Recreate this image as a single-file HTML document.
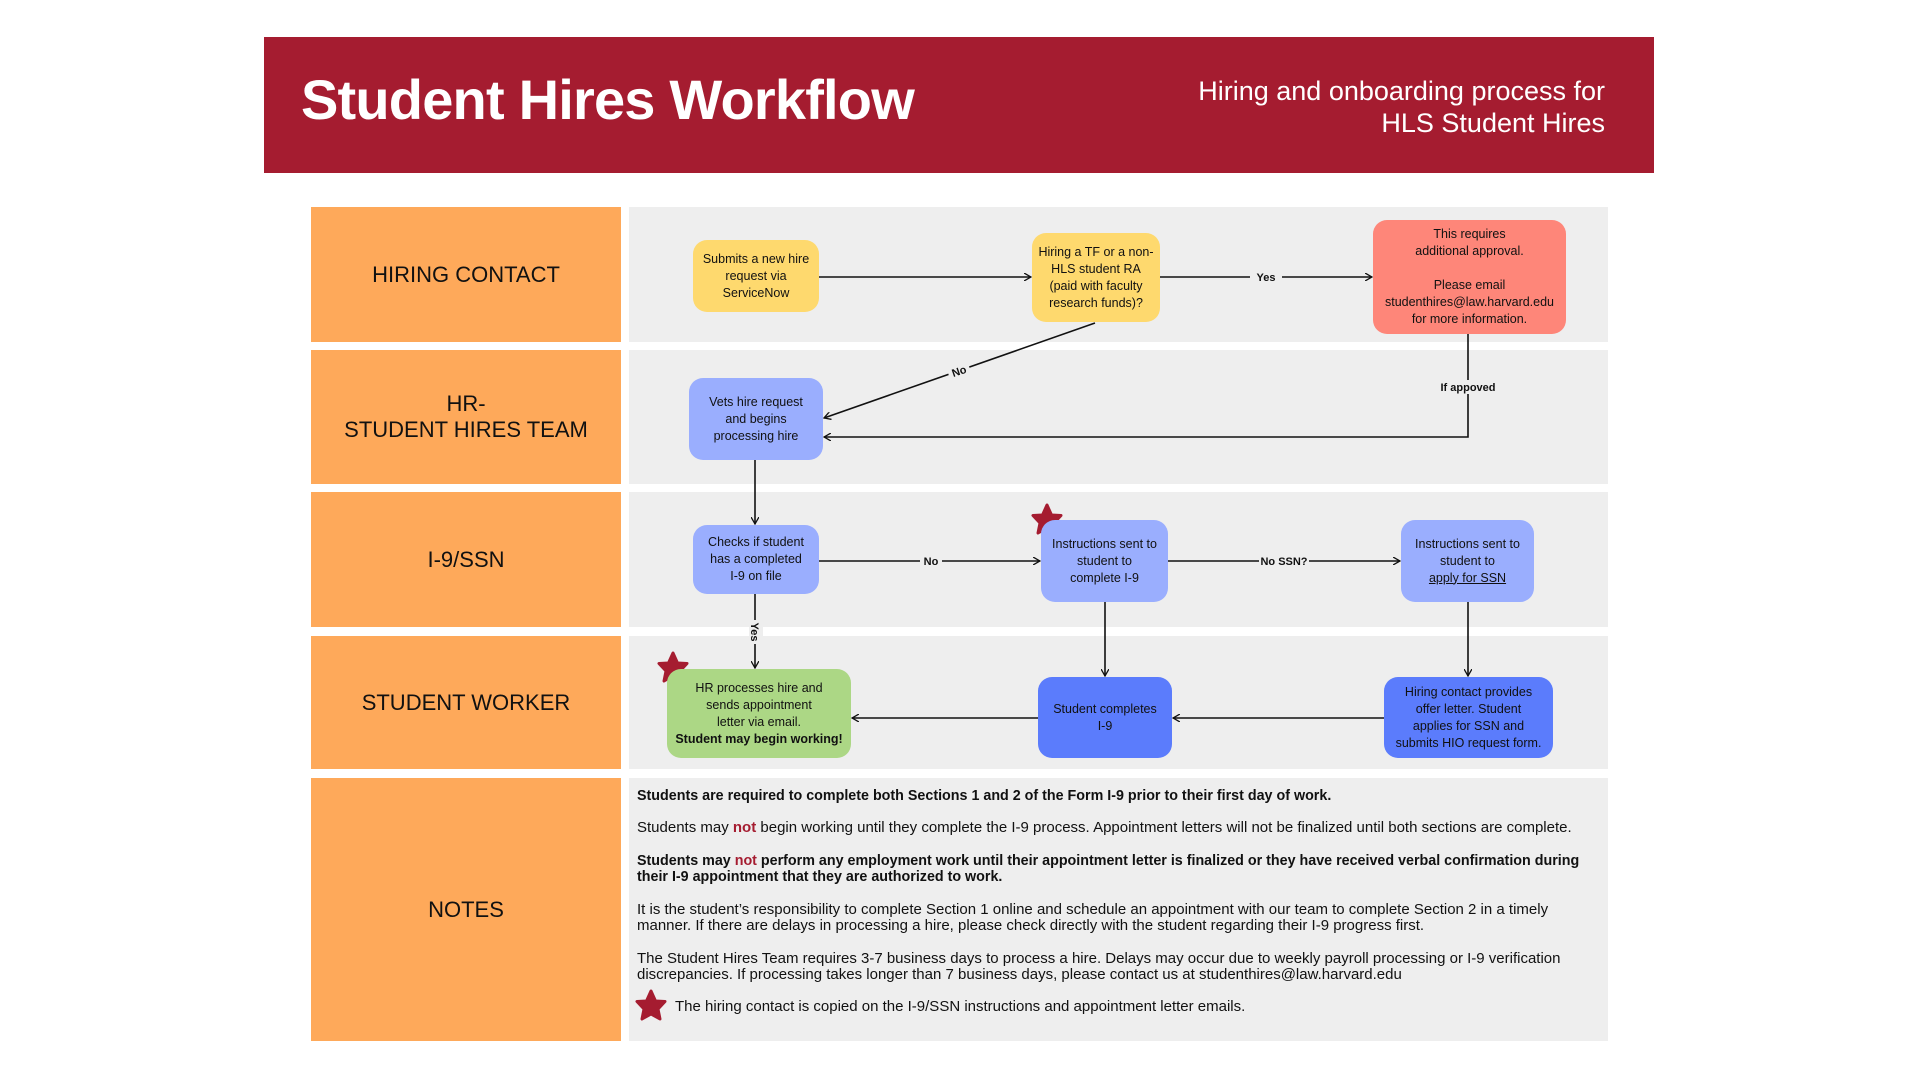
<!DOCTYPE html>
<html><head><meta charset="utf-8"><style>
*{margin:0;padding:0;box-sizing:border-box}
body{width:1920px;height:1080px;background:#fff;position:relative;font-family:"Liberation Sans",sans-serif;overflow:hidden}
.abs{position:absolute}
.hdr{left:264px;top:37px;width:1390px;height:136px;background:#a51c30}
.title{left:301px;top:67px;color:#fff;font-weight:bold;font-size:56px;letter-spacing:-0.8px}
.sub{right:315px;top:75px;color:#fff;font-size:27px;text-align:right;line-height:32px}
.lane{left:311px;width:310px;background:#fea95a;display:flex;align-items:center;justify-content:center;text-align:center;font-size:22px;color:#111;line-height:26px}
.bg{left:629px;width:979px;background:#eeeeee}
.n{display:flex;align-items:center;justify-content:center;text-align:center;font-size:12.5px;line-height:17px;color:#111;border-radius:14px;padding:4px}
.n>div{width:100%}
.y{background:#fed96e}.r{background:#fe8679}.b{background:#9aaefe}.g{background:#acd785}.d{background:#5b7cfc}
.notes{left:637px;font-size:15px;color:#111;line-height:16px;width:970px;white-space:nowrap}
.bd{font-size:14.3px}
</style></head><body>
<div class="abs hdr"></div>
<div class="abs title">Student Hires Workflow</div>
<div class="abs sub">Hiring and onboarding process for<br>HLS Student Hires</div>

<div class="abs lane" style="top:207px;height:135px">HIRING CONTACT</div>
<div class="abs lane" style="top:350px;height:134px">HR-<br>STUDENT HIRES TEAM</div>
<div class="abs lane" style="top:492px;height:135px">I-9/SSN</div>
<div class="abs lane" style="top:636px;height:133px">STUDENT WORKER</div>
<div class="abs lane" style="top:778px;height:263px">NOTES</div>
<div class="abs bg" style="top:207px;height:135px"></div>
<div class="abs bg" style="top:350px;height:134px"></div>
<div class="abs bg" style="top:492px;height:135px"></div>
<div class="abs bg" style="top:636px;height:133px"></div>
<div class="abs bg" style="top:778px;height:263px"></div>

<svg class="abs" style="left:0;top:0" width="1920" height="1080">
<defs><marker id="a" markerWidth="8" markerHeight="8" refX="7" refY="4" orient="auto" markerUnits="userSpaceOnUse"><path d="M0,0 L7,4 L0,8" fill="none" stroke="#111" stroke-width="1.3"/></marker></defs>
<g stroke="#111" stroke-width="1.6" fill="none">
<line x1="819" y1="277" x2="1031" y2="277" marker-end="url(#a)"/>
<line x1="1160" y1="277" x2="1372" y2="277" marker-end="url(#a)"/>
<line x1="1095" y1="323" x2="824" y2="418" marker-end="url(#a)"/>
<polyline points="1468,334 1468,437 824,437" marker-end="url(#a)"/>
<line x1="755" y1="460" x2="755" y2="524" marker-end="url(#a)"/>
<line x1="819" y1="561" x2="1040" y2="561" marker-end="url(#a)"/>
<line x1="1168" y1="561" x2="1400" y2="561" marker-end="url(#a)"/>
<line x1="755" y1="594" x2="755" y2="668" marker-end="url(#a)"/>
<line x1="1105" y1="602" x2="1105" y2="676" marker-end="url(#a)"/>
<line x1="1468" y1="602" x2="1468" y2="676" marker-end="url(#a)"/>
<line x1="1384" y1="718" x2="1173" y2="718" marker-end="url(#a)"/>
<line x1="1038" y1="718" x2="852" y2="718" marker-end="url(#a)"/>
</g>
<g font-family="Liberation Sans" font-size="11" font-weight="bold" fill="#111">
<rect x="1250" y="270" width="32" height="14" fill="#eee"/><text x="1266" y="281" text-anchor="middle">Yes</text>
<g transform="translate(959,371) rotate(-19)"><rect x="-11" y="-8" width="22" height="14" fill="#eee"/><text x="0" y="4" text-anchor="middle">No</text></g>
<rect x="1436" y="380" width="64" height="14" fill="#eee"/><text x="1468" y="391" text-anchor="middle">If appoved</text>
<rect x="920" y="554" width="22" height="14" fill="#eee"/><text x="931" y="565" text-anchor="middle">No</text>
<rect x="1259" y="554" width="50" height="14" fill="#eee"/><text x="1284" y="565" text-anchor="middle">No SSN?</text>
<g transform="translate(755,632) rotate(90)"><rect x="-12" y="-8" width="24" height="14" fill="#eee"/><text x="0" y="4" text-anchor="middle">Yes</text></g>
</g>
<g fill="#a51c30" stroke="#a51c30" stroke-width="3" stroke-linejoin="round">
<path d="M0,-15 L4.5,-5 L14,-4.5 L7,3 L9,13 L0,8 L-9,13 L-7,3 L-14,-4.5 L-4.5,-5Z" transform="translate(1047,520)"/>
<path d="M0,-15 L4.5,-5 L14,-4.5 L7,3 L9,13 L0,8 L-9,13 L-7,3 L-14,-4.5 L-4.5,-5Z" transform="translate(673,668)"/>
<path d="M0,-15 L4.5,-5 L14,-4.5 L7,3 L9,13 L0,8 L-9,13 L-7,3 L-14,-4.5 L-4.5,-5Z" transform="translate(651,1006)"/>
</g>
</svg>

<div class="abs n y" style="left:693px;top:240px;width:126px;height:72px"><div>Submits a new hire<br>request via<br>ServiceNow</div></div>
<div class="abs n y" style="left:1032px;top:233px;width:128px;height:89px"><div>Hiring a TF or a non-<br>HLS student RA<br>(paid with faculty<br>research funds)?</div></div>
<div class="abs n r" style="left:1373px;top:220px;width:193px;height:114px"><div>This requires<br>additional approval.<br><br>Please email<br>studenthires@law.harvard.edu<br>for more information.</div></div>
<div class="abs n b" style="left:689px;top:378px;width:134px;height:82px"><div>Vets hire request<br>and begins<br>processing hire</div></div>
<div class="abs n b" style="left:693px;top:525px;width:126px;height:69px"><div>Checks if student<br>has a completed<br>I-9 on file</div></div>
<div class="abs n b" style="left:1041px;top:520px;width:127px;height:82px"><div>Instructions sent to<br>student to<br>complete I-9</div></div>
<div class="abs n b" style="left:1401px;top:520px;width:133px;height:82px"><div>Instructions sent to<br>student to<br><u>apply for SSN</u></div></div>
<div class="abs n g" style="left:667px;top:669px;width:184px;height:89px"><div>HR processes hire and<br>sends appointment<br>letter via email.<br><b>Student may begin working!</b></div></div>
<div class="abs n d" style="left:1038px;top:677px;width:134px;height:81px"><div>Student completes<br>I-9</div></div>
<div class="abs n d" style="left:1384px;top:677px;width:169px;height:81px"><div>Hiring contact provides<br>offer letter. Student<br>applies for SSN and<br>submits HIO request form.</div></div>

<div class="abs notes bd" style="top:788px"><b>Students are required to complete both Sections 1 and 2 of the Form I-9 prior to their first day of work.</b></div>
<div class="abs notes" style="top:820px">Students may <b style="color:#a51c30">not</b> begin working until they complete the I-9 process. Appointment letters will not be finalized until both sections are complete.</div>
<div class="abs notes bd" style="top:853px"><b>Students may <span style="color:#a51c30">not</span> perform any employment work until their appointment letter is finalized or they have received verbal confirmation during<br>their I-9 appointment that they are authorized to work.</b></div>
<div class="abs notes" style="top:902px">It is the student’s responsibility to complete Section 1 online and schedule an appointment with our team to complete Section 2 in a timely<br>manner. If there are delays in processing a hire, please check directly with the student regarding their I-9 progress first.</div>
<div class="abs notes" style="top:951px">The Student Hires Team requires 3-7 business days to process a hire. Delays may occur due to weekly payroll processing or I-9 verification<br>discrepancies. If processing takes longer than 7 business days, please contact us at studenthires@law.harvard.edu</div>
<div class="abs notes" style="top:999px;left:675px">The hiring contact is copied on the I-9/SSN instructions and appointment letter emails.</div>
</body></html>
